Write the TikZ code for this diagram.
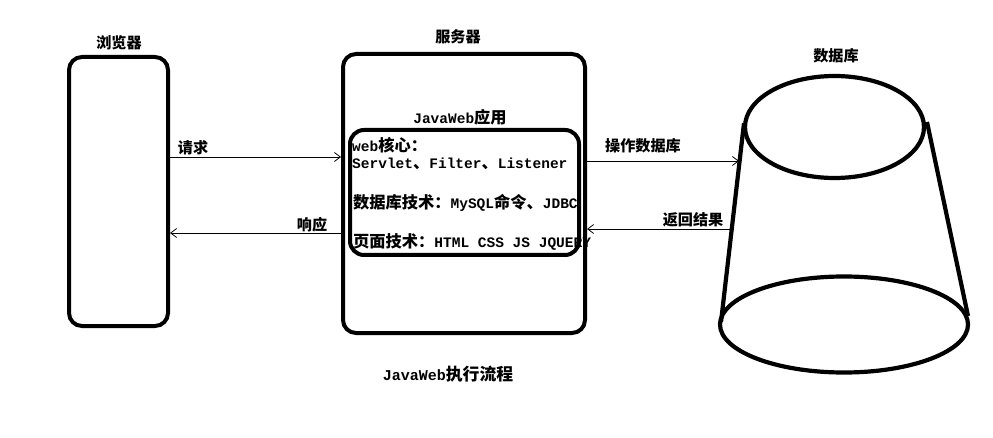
\documentclass[tikz,border=0pt]{standalone}
\usepackage{fontspec}
\setmainfont{Liberation Mono}[BoldFont={Liberation Mono Bold}]
\newfontfamily\zhfont{Noto Sans CJK SC}[Scale=1.12]
\newcommand{\zh}[1]{{\zhfont #1}}
\usetikzlibrary{arrows.meta}
\tikzset{
  box/.style={draw, line width=4pt, rounded corners=13pt},
  lbl/.style={font=\fontsize{13.5pt}{17pt}\selectfont\bfseries, inner sep=0pt},
  body/.style={font=\fontsize{14.5pt}{17pt}\selectfont\bfseries, inner sep=0pt, anchor=west},
  conn/.style={draw, line width=0.8pt, -{Straight Barb[length=6pt,width=9pt]}},
  thick4/.style={line width=4.2pt}
}
\begin{document}
\begin{tikzpicture}[x=1pt,y=-1pt]
\useasboundingbox (0,0) rectangle (993,438);
% browser
\draw[box] (69,57) rectangle (168,326);
\node[lbl] (tb) at (119,43) {\zh{浏览器}};
\coordinate (br1) at (170,157);
\coordinate (br2) at (170,233);
% server
\draw[box] (343,54) rectangle (585,333);
\node[lbl] (ts) at (458,37) {\zh{服务器}};
\node[lbl, font=\fontsize{14.5pt}{17pt}\selectfont\bfseries] (tapp) at (460,117) {JavaWeb\zh{应用}};
\draw[box, rounded corners=14pt] (350,130) rectangle (579,255);
\coordinate (sl1) at (341,157);
\coordinate (sl2) at (341,233);
\coordinate (sr1) at (587,161);
\coordinate (sr2) at (587,229);
\node[body] (t1) at (352,145) {web\zh{核心：}};
\node[body] (t2) at (352,164) {Servlet\zh{、}Filter\zh{、}Listener};
\node[body] (t3) at (353,203) {\zh{数据库技术：}MySQL\zh{命令、}JDBC};
\node[body] (t4) at (353,242) {\zh{页面技术：}HTML CSS JS JQUERY};
% database
\draw[thick4] (834.5,127) ellipse [x radius=89.5, y radius=51];
\draw[thick4] (844,324.5) ellipse [x radius=124, y radius=48];
\draw[thick4] (744,123) -- (721,322);
\draw[thick4] (927,122) -- (968,316);
\node[lbl] (tdb) at (836,56) {\zh{数据库}};
\coordinate (db1) at (739,161);
\coordinate (db2) at (731,229);
% connectors
\draw[conn] (br1) -- (sl1);
\node[lbl] (lq) at (193,148) {\zh{请求}};
\draw[conn] (sl2) -- (br2);
\node[lbl] (lr) at (312,225) {\zh{响应}};
\draw[conn] (sr1) -- (db1);
\node[lbl] (lo) at (643,146) {\zh{操作数据库}};
\draw[conn] (db2) -- (sr2);
\node[lbl] (lf) at (693,220) {\zh{返回结果}};
% caption
\node[lbl, font=\fontsize{15pt}{17pt}\selectfont\bfseries] (cap) at (448,374) {JavaWeb\zh{执行流程}};
\end{tikzpicture}
\end{document}
